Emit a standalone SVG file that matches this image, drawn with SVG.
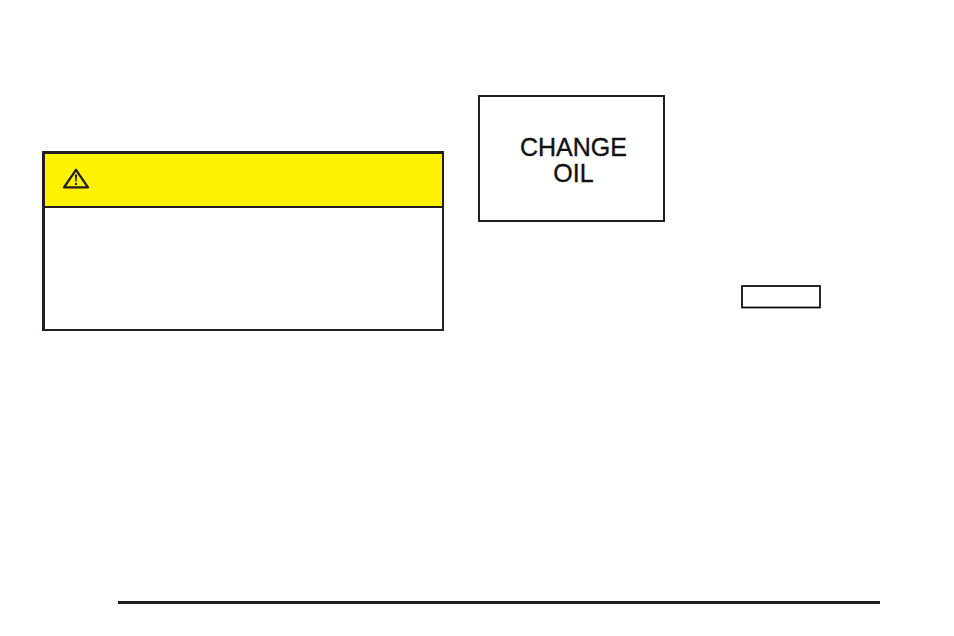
<svg xmlns="http://www.w3.org/2000/svg" width="954" height="636" viewBox="0 0 954 636">
  <style>
    .ink { stroke: #231f20; fill: none; }
    .label { font-family: "Liberation Sans", Arial, sans-serif; font-size: 25px; fill: #111; stroke: #111; stroke-width: 0.350; text-anchor: middle; }
  </style>
  <rect width="954" height="636" fill="#fff"/>
  <g id="caution-box">
    <rect x="44" y="153" width="398.500" height="54" fill="#fff200"/>
    <path class="ink" stroke-width="2" d="M44 207H443"/>
    <rect x="42" y="151" width="402" height="3" fill="#231f20"/>
    <rect x="42" y="151" width="3" height="180" fill="#231f20"/>
    <rect x="442" y="151" width="2" height="180" fill="#231f20"/>
    <rect x="42" y="329" width="402" height="2" fill="#231f20"/>
    <g id="warning-icon">
      <path class="ink" stroke-width="2.300" stroke-linejoin="round" d="M76 169.800L88 187.400H64Z"/>
      <path d="M74.800 174.500h2.400l-.7 7.500h-1Z" fill="#231f20"/>
      <rect x="75" y="183" width="2" height="2" fill="#231f20"/>
    </g>
  </g>
  <g id="change-oil">
    <rect class="ink" x="479" y="96" width="185" height="125" stroke-width="2"/>
    <text class="label" x="573.500" y="155.500">CHANGE</text>
    <text class="label" x="573.500" y="181.500">OIL</text>
  </g>
  <g id="small-box">
    <rect x="742" y="286" width="78" height="21.500" fill="#fff" stroke="#000" stroke-width="1.700"/>
  </g>
  <g id="connectors"></g>
  <g id="footer-rule">
    <rect x="118" y="601" width="762" height="3" fill="#231f20"/>
  </g>
</svg>
